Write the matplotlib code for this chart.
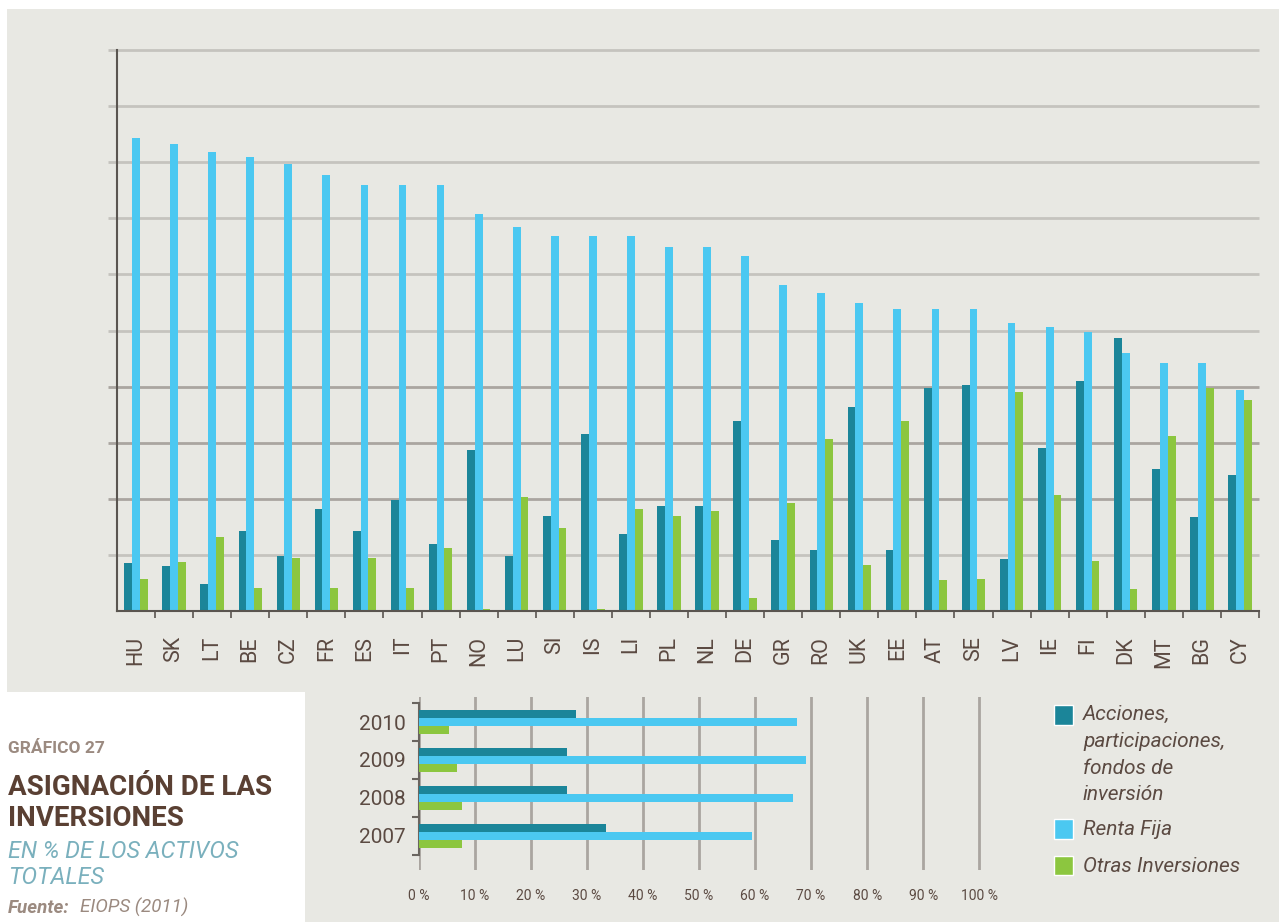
import numpy as np
import matplotlib.pyplot as plt
from matplotlib.patches import Rectangle

# --- data (% of total assets) ---
countries = ['HU', 'SK', 'LT', 'BE', 'CZ', 'FR', 'ES', 'IT', 'PT', 'NO',
             'LU', 'SI', 'IS', 'LI', 'PL', 'NL', 'DE', 'GR', 'RO', 'UK',
             'EE', 'AT', 'SE', 'LV', 'IE', 'FI', 'DK', 'MT', 'BG', 'CY']
acciones = [8.6, 8.0, 4.8, 14.3, 9.8, 18.2, 14.3, 19.8, 11.9, 28.7,
            9.8, 16.9, 31.6, 13.7, 18.7, 18.7, 33.9, 12.7, 10.9, 36.4,
            10.9, 39.8, 40.3, 9.3, 29.1, 41.0, 48.7, 25.3, 16.8, 24.2]
renta_fija = [84.3, 83.2, 81.8, 80.9, 79.7, 77.7, 75.9, 75.9, 75.9, 70.8,
              68.4, 66.8, 66.8, 66.8, 64.9, 64.9, 63.3, 58.1, 56.7, 54.9,
              53.8, 53.8, 53.8, 51.3, 50.6, 49.7, 46.0, 44.2, 44.2, 39.4]
otras = [5.7, 8.7, 13.2, 4.1, 9.4, 4.1, 9.4, 4.1, 11.2, 0.4,
         20.3, 14.8, 0.4, 18.2, 16.9, 17.8, 2.3, 19.3, 30.7, 8.2,
         33.9, 5.5, 5.7, 39.0, 20.7, 8.9, 3.9, 31.2, 39.8, 37.6]

years = ['2007', '2008', '2009', '2010']
acciones_yr = [33.5, 26.4, 26.4, 28.0]
renta_fija_yr = [59.4, 66.8, 69.0, 67.4]
otras_yr = [7.7, 7.7, 6.8, 5.5]

legend_labels = ['Acciones,\nparticipaciones,\nfondos de\ninversión',
                 'Renta Fija', 'Otras Inversiones']

TEAL = '#1b8599'
BLUE = '#4bc8f1'
GREEN = '#8cc63f'
BROWN = '#5b4a42'
GRID_DARK = '#aaa5a0'
GRID_LIGHT = '#c5c3be'
FONT = ['Roboto', 'DejaVu Sans']

W, H = 1279, 922
fig = plt.figure(figsize=(W / 100, H / 100), dpi=100)
fig.patch.set_facecolor('white')

def px(x0, y0, x1, y1):
    # pixel box (top-left origin) -> figure fraction rect
    return [x0 / W, 1 - y1 / H, (x1 - x0) / W, (y1 - y0) / H]

# page background + white title box
fig.patches.append(Rectangle((7 / W, 0), 1, 1 - 9 / H, transform=fig.transFigure,
                             facecolor='#e8e8e3', edgecolor='none', zorder=-10))
fig.patches.append(Rectangle((7 / W, 0), (305 - 7) / W, 1 - 692 / H,
                             transform=fig.transFigure,
                             facecolor='white', edgecolor='none', zorder=-9))

# --- main chart ---
ax = fig.add_axes(px(117, 50, 1259, 611))
ax.set_facecolor('none')
x = np.arange(len(countries))
bw = 0.205
ax.bar(x - bw, acciones, bw, color=TEAL, zorder=3)
ax.bar(x, renta_fija, bw, color=BLUE, zorder=3)
ax.bar(x + bw, otras, bw, color=GREEN, zorder=3)
ax.set_xlim(-0.5, len(countries) - 0.5)
ax.set_ylim(0, 100)

for v in range(10, 101, 10):
    c = GRID_DARK if v in (20, 30, 40) else GRID_LIGHT
    ax.hlines(v, -0.74, len(countries) - 0.5, color=c, lw=2, zorder=1, clip_on=False)

for s in ['top', 'right']:
    ax.spines[s].set_visible(False)
for s in ['left', 'bottom']:
    ax.spines[s].set_color('#5a5550')
    ax.spines[s].set_linewidth(1.5)
    ax.spines[s].set_zorder(4)
ax.set_yticks([])
ax.set_xticks(np.arange(0.5, len(countries), 1.0))
ax.set_xticklabels([])
ax.set_xticks(x, minor=True)
ax.set_xticklabels(countries, minor=True, rotation=90, family=FONT,
                   fontsize=15.5, color=BROWN)
ax.tick_params(axis='x', which='major', length=5, width=1.2, color='#5a5550')
ax.tick_params(axis='x', which='minor', length=0, pad=18)

# --- inset chart by year ---
ax2 = fig.add_axes(px(418.5, 697, 985, 870))
ax2.set_facecolor('none')
y = np.arange(len(years))
bh = 0.205
ax2.barh(y + bh, acciones_yr, bh, color=TEAL, zorder=3)
ax2.barh(y, renta_fija_yr, bh, color=BLUE, zorder=3)
ax2.barh(y - bh, otras_yr, bh, color=GREEN, zorder=3)
ax2.set_xlim(0, 101)
ax2.set_ylim(-0.9, 3.66)
ax2.set_xticks(range(0, 101, 10))
ax2.set_xticklabels([f'{v} %' for v in range(0, 101, 10)], family=FONT,
                    fontsize=10, color=BROWN)
ax2.tick_params(axis='x', length=0, pad=14)
ax2.grid(axis='x', color=GRID_DARK, lw=2, zorder=1)
ax2.set_axisbelow(True)
ax2.set_yticks(np.arange(-0.5, 4, 1.0))
ax2.set_yticklabels([])
ax2.set_yticks(y, minor=True)
ax2.set_yticklabels(years, minor=True, family=FONT, fontsize=15, color=BROWN)
ax2.tick_params(axis='y', which='major', length=5, width=1.5, color='#6a6560')
ax2.tick_params(axis='y', which='minor', length=0, pad=9)
for s in ['top', 'right', 'bottom']:
    ax2.spines[s].set_visible(False)
ax2.spines['left'].set_bounds(-0.5, 3.5)
ax2.spines['left'].set_color('#6a6560')
ax2.spines['left'].set_linewidth(1.5)

# --- legend ---
sq = [(705, 725), (819, 839), (856, 875)]
txt_y = [705, 829, 866]
for i, ((y0, y1), ty, lab, col) in enumerate(zip(sq, txt_y, legend_labels,
                                                 [TEAL, BLUE, GREEN])):
    fig.patches.append(Rectangle((1054 / W, 1 - y1 / H), 19 / W, (y1 - y0) / H,
                                 transform=fig.transFigure, facecolor=col,
                                 edgecolor='white', lw=1))
    fig.text(1083 / W, 1 - ty / H, lab, family=FONT, style='italic',
             fontsize=15, color=BROWN, va='top' if i == 0 else 'center',
             ha='left', linespacing=1.52)

# --- title block ---
fig.text(8 / W, 1 - 753 / H, 'GRÁFICO 27', family=FONT, weight='bold',
         fontsize=12.5, color='#9b8a80', va='baseline')
fig.text(8 / W, 1 - 795 / H, 'ASIGNACIÓN DE LAS', family=FONT, weight='bold',
         fontsize=20, color='#5a4033', va='baseline')
fig.text(8 / W, 1 - 826 / H, 'INVERSIONES', family=FONT, weight='bold',
         fontsize=20, color='#5a4033', va='baseline')
fig.text(8 / W, 1 - 858 / H, 'EN % DE LOS ACTIVOS', family=FONT, style='italic',
         fontsize=16.8, color='#7ab0bd', va='baseline')
fig.text(8 / W, 1 - 884 / H, 'TOTALES', family=FONT, style='italic',
         fontsize=16.8, color='#7ab0bd', va='baseline')
fig.text(8 / W, 1 - 913 / H, 'Fuente:', family=FONT, style='italic', weight='bold',
         fontsize=13.5, color='#9b8a80', va='baseline')
fig.text(80 / W, 1 - 913 / H, 'EIOPS (2011)', family=FONT, style='italic',
         fontsize=13.5, color='#9b8a80', va='baseline')

fig.savefig('out.png', dpi=100, facecolor=fig.get_facecolor())
